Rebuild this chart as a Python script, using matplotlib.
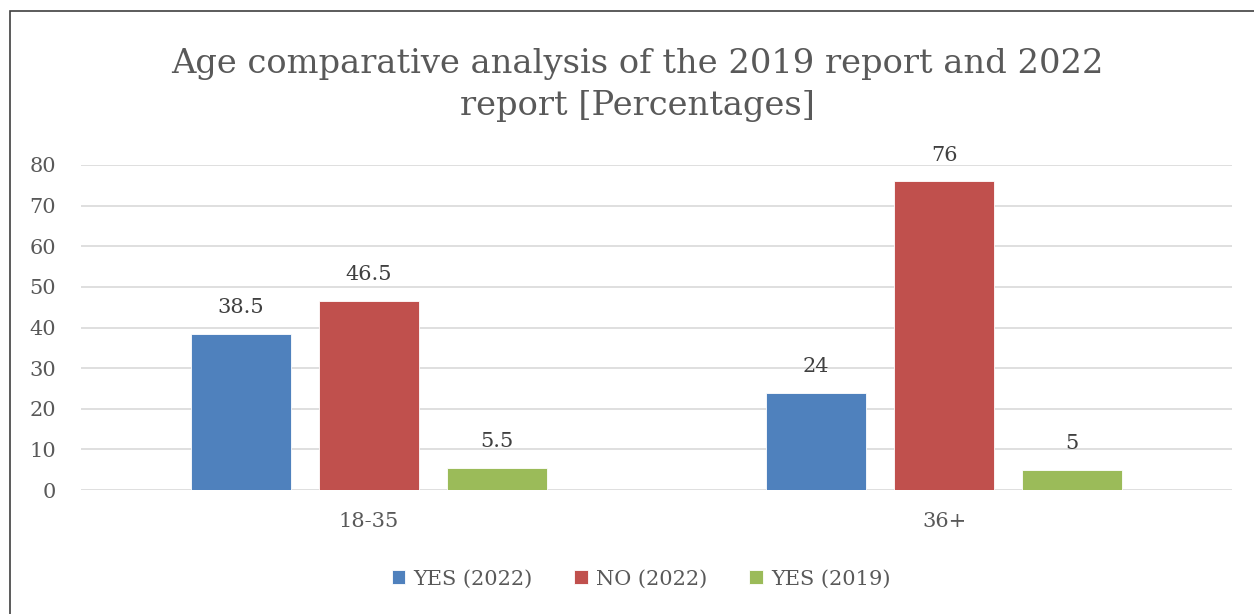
import matplotlib
matplotlib.use("Agg")
import matplotlib.pyplot as plt
from matplotlib.patches import Rectangle
import numpy as np

categories = ["18-35", "36+"]
series_names = ["YES (2022)", "NO (2022)", "YES (2019)"]
yes_2022 = [38.5, 24]
no_2022 = [46.5, 76]
yes_2019 = [5.5, 5]
labels_2022_yes = ["38.5", "24"]
labels_2022_no = ["46.5", "76"]
labels_2019_yes = ["5.5", "5"]
colors = ["#4F81BD", "#C0504D", "#9BBB59"]
yticks = [0, 10, 20, 30, 40, 50, 60, 70, 80]

plt.rcParams['font.family'] = ['DejaVu Serif']
TXT = "#595959"

fig = plt.figure(figsize=(12.54, 6.14), dpi=100)
# plot area: x 81..1232, y 165 (80) .. 490 (0)
W, H = 1254, 614
ax = fig.add_axes([81 / W, 1 - 490 / H, (1232 - 81) / W, (490 - 165) / H])

x = np.arange(len(categories))
width = 0.1738
offset = 0.2224
all_series = [yes_2022, no_2022, yes_2019]
all_labels = [labels_2022_yes, labels_2022_no, labels_2019_yes]
for i, (vals, labs) in enumerate(zip(all_series, all_labels)):
    bars = ax.bar(x + (i - 1) * offset, vals, width, color=colors[i],
                  edgecolor="white", linewidth=0.6, label=series_names[i], zorder=3)
    ax.bar_label(bars, labels=labs, padding=12, fontsize=15, color="#404040")

ax.set_xlim(-0.5, 1.5)
ax.set_ylim(0, 80)
ax.set_yticks(yticks)
ax.set_xticks(x)
ax.set_xticklabels(categories)
ax.grid(axis="y", color="#D9D9D9", linewidth=1.2, zorder=0)
ax.set_axisbelow(True)
for s in ax.spines.values():
    s.set_visible(False)
ax.tick_params(axis="both", length=0, labelsize=15, labelcolor=TXT)
ax.tick_params(axis="y", pad=18)
ax.tick_params(axis="x", pad=16)

fig.text(637 / W, 1 - 85 / H, "Age comparative analysis of the 2019 report and 2022\nreport [Percentages]",
         ha="center", va="center", fontsize=24.3, color=TXT, linespacing=1.42)

leg = fig.legend(loc="center", bbox_to_anchor=(641 / W, 1 - 579 / H), ncol=3,
                 frameon=False, fontsize=15, handlelength=0.65, handleheight=0.65,
                 handletextpad=0.4, columnspacing=2.0, labelcolor=TXT)

fig.add_artist(Rectangle((10 / W, -0.1), 1.2, 1 - 11 / H + 0.1, transform=fig.transFigure,
                         fill=False, edgecolor="#404040", linewidth=1.2))

fig.savefig("out.png", dpi=100)
